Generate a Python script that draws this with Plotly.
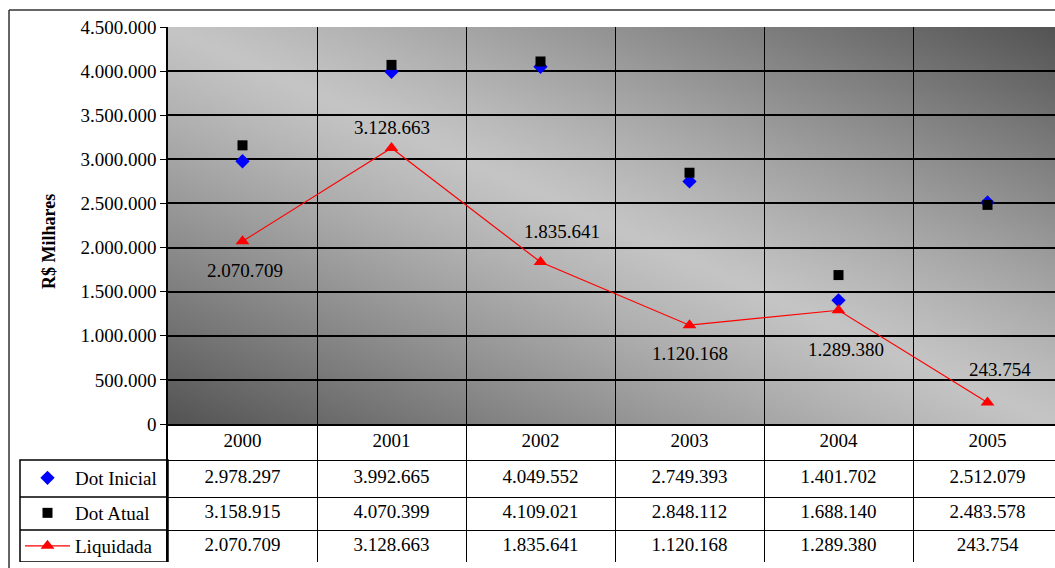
import base64
import struct
import zlib

import numpy as np
import plotly.graph_objects as go

# ---- data -------------------------------------------------------------
years = ["2000", "2001", "2002", "2003", "2004", "2005"]
dot_inicial = [2978297, 3992665, 4049552, 2749393, 1401702, 2512079]
dot_atual = [3158915, 4070399, 4109021, 2848112, 1688140, 2483578]
liquidada = [2070709, 3128663, 1835641, 1120168, 1289380, 243754]

series_names = ["Dot Inicial", "Dot Atual", "Liquidada"]
y_title = "R$ Milhares"


def fmt(v):
    """Brazilian thousands grouping: 2978297 -> 2.978.297"""
    return f"{v:,}".replace(",", ".")


# ---- page geometry (pixels) ------------------------------------------
W, H = 1055, 568
L, R, T, B = 168, 0, 27, 6
PLOT_W = W - L - R
AREA_H = H - T - B
TABLE_H = 138                      # table strip under the chart
split = TABLE_H / AREA_H           # paper y where chart meets table
CAT_W = 149                        # width of one category column
x_max = PLOT_W / CAT_W - 0.5       # last column runs past the right edge


def px_x(px):
    return (px - L) / PLOT_W


def px_y(py):
    return (H - B - py) / AREA_H


# ---- diagonal grey gradient for the plot background -----------------
def gray_png(arr):
    h, w = arr.shape
    raw = b"".join(b"\x00" + arr[i].astype(np.uint8).tobytes() for i in range(h))

    def chunk(tag, data):
        c = struct.pack(">I", len(data)) + tag + data
        return c + struct.pack(">I", zlib.crc32(tag + data) & 0xFFFFFFFF)

    png = (b"\x89PNG\r\n\x1a\n"
           + chunk(b"IHDR", struct.pack(">IIBBBBB", w, h, 8, 0, 0, 0, 0))
           + chunk(b"IDAT", zlib.compress(raw, 9))
           + chunk(b"IEND", b""))
    return "data:image/png;base64," + base64.b64encode(png).decode()


gw, gh = 444, 200
u = np.linspace(0, 1, gw)
v = np.linspace(0, 1, gh)
dist = np.abs(u[None, :] - v[:, None])
shade = np.clip(197 - 113 * dist ** 1.15, 0, 255)
bg_uri = gray_png(shade)

FONT = "Liberation Serif, Times New Roman, serif"
FS = 19

fig = go.Figure()

# ---- chart series -----------------------------------------------------
fig.add_trace(go.Scatter(
    x=years, y=dot_inicial, name=series_names[0], mode="markers",
    marker=dict(symbol="diamond", size=11, color="#0000ff"),
    legend="legend", xaxis="x", yaxis="y"))
fig.add_trace(go.Scatter(
    x=years, y=dot_atual, name=series_names[1], mode="markers",
    marker=dict(symbol="square", size=10, color="#000000"),
    legend="legend2", xaxis="x", yaxis="y"))
fig.add_trace(go.Scatter(
    x=years, y=liquidada, name=series_names[2], mode="lines+markers",
    line=dict(color="#ff0000", width=1.2),
    marker=dict(symbol="triangle-up", size=12, color="#ff0000"),
    legend="legend3", xaxis="x", yaxis="y"))

# value labels on the Liquidada line (pixel offsets from each point);
# category axes take the position index for annotations
label_offsets = [(2, -29), (0, 20), (21, 31), (0, -28), (7, -39), (12, 33)]
for i, (val, (dx, dy)) in enumerate(zip(liquidada, label_offsets)):
    fig.add_annotation(x=i, y=val, xref="x", yref="y", text=fmt(val),
                       showarrow=False, xshift=dx, yshift=dy,
                       font=dict(family=FONT, size=FS, color="black"))

# ---- data table under the chart --------------------------------------
row_centres = [18, 54.5, 89.5, 122]
fig.add_trace(go.Scatter(
    x=years, y=[row_centres[0]] * len(years), text=years, mode="text",
    textfont=dict(family=FONT, size=FS, color="black"),
    showlegend=False, hoverinfo="skip", xaxis="x2", yaxis="y2"))
for rc, vals in zip(row_centres[1:], [dot_inicial, dot_atual, liquidada]):
    fig.add_trace(go.Scatter(
        x=years, y=[rc] * len(years), text=[fmt(x) for x in vals],
        mode="text", textfont=dict(family=FONT, size=FS, color="black"),
        showlegend=False, hoverinfo="skip", xaxis="x2", yaxis="y2"))

# legend cells on the left of the table
line_style = dict(color="black", width=1.5)
fig.add_shape(type="rect", xref="paper", yref="y2",
              x0=px_x(20), x1=0, y0=36, y1=138, line=line_style)
for yb in (73, 106):
    fig.add_shape(type="line", xref="paper", yref="y2",
                  x0=px_x(20), x1=0, y0=yb, y1=yb, line=line_style)

# outer frame of the chart object
frame = dict(color="#333333", width=1.5)
fig.add_shape(type="line", xref="paper", yref="paper",
              x0=px_x(9), x1=px_x(9), y0=px_y(10), y1=px_y(H + 5), line=frame)
fig.add_shape(type="line", xref="paper", yref="paper",
              x0=px_x(9), x1=1.02, y0=px_y(10), y1=px_y(10), line=frame)

# axis title
fig.add_annotation(text=f"<b>{y_title}</b>", xref="paper", yref="paper",
                   x=px_x(37), y=px_y(242), textangle=-90, showarrow=False,
                   font=dict(family=FONT, size=18, color="black"))

# background gradient
fig.add_layout_image(source=bg_uri, xref="paper", yref="paper",
                     x=0, y=1, sizex=1, sizey=1 - split,
                     xanchor="left", yanchor="top", sizing="stretch",
                     layer="below")

legend_common = dict(xanchor="left", yanchor="middle", bgcolor="rgba(0,0,0,0)",
                     borderwidth=0, xref="container", yref="container",
                     itemwidth=45,
                     font=dict(family=FONT, size=FS, color="black"))

fig.update_layout(
    width=W, height=H,
    margin=dict(l=L, r=R, t=T, b=B, autoexpand=False),
    paper_bgcolor="white",
    plot_bgcolor="rgba(0,0,0,0)",
    separators=",.",
    font=dict(family=FONT, size=FS, color="black"),
    showlegend=True,
    legend=dict(x=20 / W, y=1 - 478 / H, **legend_common),
    legend2=dict(x=20 / W, y=1 - 513 / H, **legend_common),
    legend3=dict(x=20 / W, y=1 - 546 / H, **legend_common),
    xaxis=dict(type="category", categoryarray=years, domain=[0, 1],
               range=[-0.5, x_max],
               anchor="y", tickson="boundaries", showgrid=True,
               gridcolor="black", gridwidth=1.2, showticklabels=False,
               ticks="", showline=True, linecolor="black", linewidth=2),
    yaxis=dict(domain=[split, 1], range=[0, 4500000], dtick=500000,
               tickformat=",d", ticks="outside", ticklen=6,
               tickcolor="black", showgrid=True, gridcolor="black",
               gridwidth=1.5, showline=True, linecolor="black",
               linewidth=1.5, zeroline=False, anchor="x",
               tickfont=dict(family=FONT, size=FS, color="black")),
    xaxis2=dict(matches="x", type="category", anchor="y2", domain=[0, 1],
                tickson="boundaries", showgrid=True, gridcolor="black",
                gridwidth=1.2, showticklabels=False, ticks=""),
    yaxis2=dict(domain=[0, split], range=[TABLE_H, 0], tickvals=[0, 36, 73, 106, 138],
                showgrid=True, gridcolor="black", gridwidth=1.2,
                showticklabels=False, ticks="", showline=True,
                linecolor="black", linewidth=1.5, zeroline=False, anchor="x2"),
)

fig.write_html("out.html")
